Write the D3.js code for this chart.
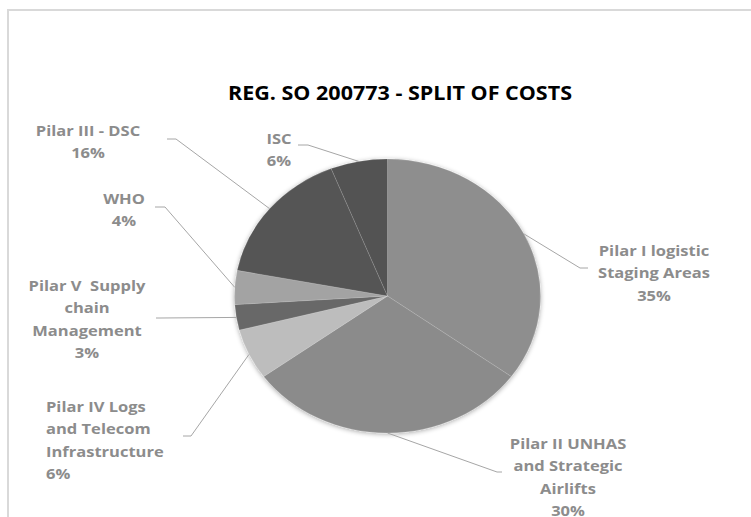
<!DOCTYPE html>
<html>
<head>
<meta charset="utf-8">
<script src="https://cdn.jsdelivr.net/npm/d3@7"></script>
<style>
  html, body { margin: 0; padding: 0; background: #fff; }
  svg { display: block; }
  text { white-space: pre; }
</style>
</head>
<body>
<svg id="chart" width="751" height="517"></svg>
<script>
'use strict';

// data
const chartTitle = 'REG. SO 200773 - SPLIT OF COSTS';
const categories = [
    ['Pilar I logistic', 'Staging Areas'],
    ['Pilar II UNHAS', 'and Strategic', 'Airlifts'],
    ['Pilar IV Logs', 'and Telecom', 'Infrastructure'],
    ['Pilar V  Supply', 'chain', 'Management'],
    ['WHO'],
    ['Pilar III - DSC'],
    ['ISC']
];
const shares = [35, 30, 6, 3, 4, 16, 6];

// styles / layout
const sliceColors = ['#8e8e8e', '#8b8b8b', '#bdbdbd', '#686868', '#a3a3a3', '#555555', '#525252'];
const labelX = [654, 568, 46, 87, 124, 88, 279];
const labelY = [251, 444, 407, 286, 199, 131, 139];
const labelAnchor = ['middle', 'middle', 'start', 'middle', 'middle', 'middle', 'middle'];
const elbows = [
    [[580, 268], [588, 268]],
    [[497, 472], [502, 472]],
    [[191, 436], [183, 436]],
    [[160, 318], [156, 318]],
    [[165, 207], [155, 207]],
    [[176, 139], [167, 139]],
    [[308, 145], [298, 145]]
];

let cx = 387.5;
let cy = 296;
let ry = 137;
let stretch = 153 / 137;
let lineH = 22.5;

let svg = d3.select('#chart');

let defs = svg.append('defs');
let shadow = defs.append('filter').attr('id', 'soft')
    .attr('x', '-10%').attr('y', '-10%').attr('width', '120%').attr('height', '120%');
shadow.append('feGaussianBlur').attr('in', 'SourceAlpha').attr('stdDeviation', 2.5);
shadow.append('feOffset').attr('dx', 0).attr('dy', 1).attr('result', 'blur');
shadow.append('feComponentTransfer').append('feFuncA').attr('type', 'linear').attr('slope', 0.35);
let merge = shadow.append('feMerge');
merge.append('feMergeNode');
merge.append('feMergeNode').attr('in', 'SourceGraphic');

// chart area border
svg.append('rect')
    .attr('x', 8).attr('y', 10)
    .attr('width', 800).attr('height', 600)
    .attr('fill', '#fff')
    .attr('stroke', '#d9d9d9')
    .attr('stroke-width', 2);

svg.append('text')
    .attr('x', 400).attr('y', 100)
    .attr('text-anchor', 'middle')
    .attr('font-family', 'Open Sans, sans-serif')
    .attr('font-weight', 'bold')
    .attr('font-size', 20)
    .attr('textLength', 344)
    .attr('lengthAdjust', 'spacingAndGlyphs')
    .attr('fill', '#000')
    .text(chartTitle);

let pie = d3.pie().sort(null).value(d => d);
let arcs = pie(shares);
let arc = d3.arc().innerRadius(0).outerRadius(ry);

let pieG = svg.append('g')
    .attr('transform', `translate(${cx},${cy}) scale(${stretch},1)`)
    .attr('filter', 'url(#soft)');

pieG.selectAll('path')
    .data(arcs)
    .join('path')
    .attr('d', arc)
    .attr('fill', (d, i) => sliceColors[i])
    .attr('stroke', 'rgba(255,255,255,0.18)')
    .attr('stroke-width', 0.8)
    .attr('vector-effect', 'non-scaling-stroke');

// edge point of a slice, at its middle angle
function edgePoint(d) {
    let a = (d.startAngle + d.endAngle) / 2;
    return [cx + Math.sin(a) * ry * stretch, cy - Math.cos(a) * ry];
}

svg.append('g')
    .selectAll('polyline')
    .data(arcs)
    .join('polyline')
    .attr('points', (d, i) => [edgePoint(d), elbows[i][0], elbows[i][1]].map(p => p.join(',')).join(' '))
    .attr('fill', 'none')
    .attr('stroke', '#a6a6a6')
    .attr('stroke-width', 1);

let pct = d => Math.round((d.endAngle - d.startAngle) / (2 * Math.PI) * 100) + '%';

let labels = svg.append('g')
    .selectAll('g')
    .data(arcs)
    .join('g')
    .attr('transform', (d, i) => `translate(${labelX[i]},${labelY[i]}) scale(${stretch},1)`);

labels.each(function(d, i) {
    let lines = categories[i].concat([pct(d)]);
    let t = d3.select(this).append('text')
        .attr('text-anchor', labelAnchor[i])
        .attr('font-family', 'Open Sans, sans-serif')
        .attr('font-weight', 'bold')
        .attr('font-size', 14.8)
        .attr('fill', '#8c8c8c');
    lines.forEach((line, k) => {
        t.append('tspan')
            .attr('x', 0)
            .attr('y', k * lineH + 5)
            .text(line);
    });
});
</script>
</body>
</html>
